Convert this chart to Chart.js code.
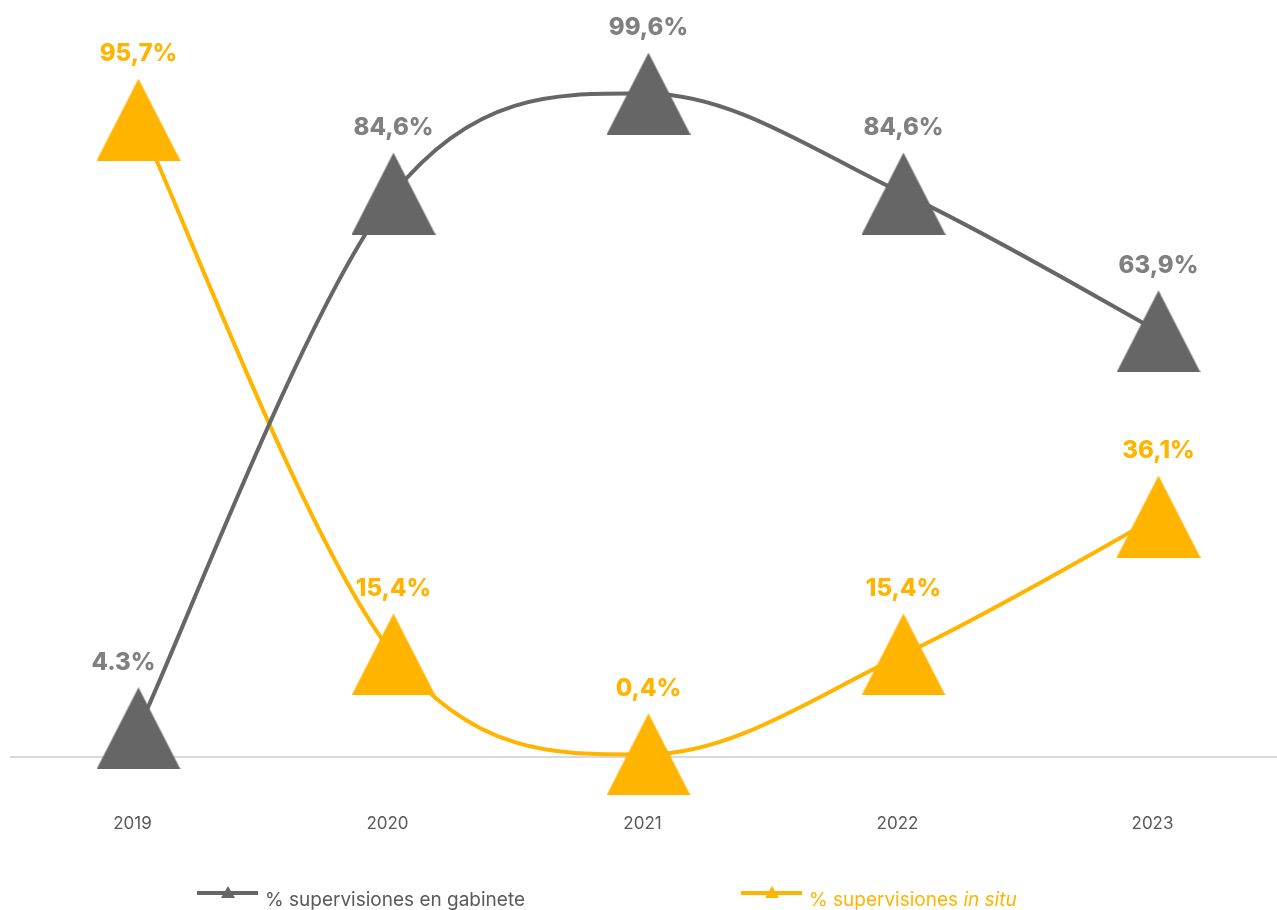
<!DOCTYPE html>
<html lang="es">
<head>
<meta charset="UTF-8">
<title>Supervisiones en gabinete / in situ</title>
<script src="https://cdn.jsdelivr.net/npm/chart.js"></script>
<style>
  body { margin: 0; background: #ffffff; overflow: hidden; }
  #wrap { position: absolute; left: 0; top: 0; width: 1286px; height: 910px; }
</style>
</head>
<body>
<div id="wrap"><canvas id="chart" width="1286" height="910"></canvas></div>
<script>
const years = ['2019', '2020', '2021', '2022', '2023'];
const gabinete = [4.3, 84.6, 99.6, 84.6, 63.9];
const inSitu = [95.7, 15.4, 0.4, 15.4, 36.1];
const gabineteText = ['4.3%', '84,6%', '99,6%', '84,6%', '63,9%'];
const inSituText = ['95,7%', '15,4%', '0,4%', '15,4%', '36,1%'];

const GRAY = '#666666';
const GRAY_TEXT = '#808080';
const YELLOW = '#FFB400';
const FONT = 'Inter, "Noto Sans", sans-serif';

// big triangle marker, centred on its bounding box like the original
function triangle(color, w, h) {
  const c = document.createElement('canvas');
  c.width = w; c.height = h;
  const g = c.getContext('2d');
  g.fillStyle = color;
  g.beginPath();
  g.moveTo(w / 2, 0);
  g.lineTo(w, h);
  g.lineTo(0, h);
  g.closePath();
  g.fill();
  return c;
}

// office-style smoothing: plain catmull-rom handles (neighbour diff / 6)
const officeSmooth = {
  id: 'officeSmooth',
  beforeDatasetsDraw(chart) {
    chart.data.datasets.forEach((ds, i) => {
      const meta = chart.getDatasetMeta(i);
      const pts = meta.data;
      pts.forEach((p, j) => {
        const prev = pts[j - 1] || p;
        const next = pts[j + 1] || p;
        const tx = (next.x - prev.x) / 6;
        const ty = (next.y - prev.y) / 6;
        p.cp1x = p.x - tx; p.cp1y = p.y - ty;
        p.cp2x = p.x + tx; p.cp2y = p.y + ty;
      });
      meta.dataset._pointsUpdated = true;
    });
  }
};

const valueLabels = {
  id: 'valueLabels',
  afterDatasetsDraw(chart) {
    const ctx = chart.ctx;
    ctx.save();
    ctx.font = '800 24px ' + FONT;
    ctx.textAlign = 'center';
    ctx.textBaseline = 'middle';
    chart.data.datasets.forEach((ds, i) => {
      chart.getDatasetMeta(i).data.forEach((pt, j) => {
        const dx = (ds.labelShift && ds.labelShift[j]) || 0;
        ctx.fillStyle = ds.labelColor;
        ctx.fillText(ds.valueText[j], pt.x + dx, pt.y - 66);
      });
    });
    ctx.restore();
  }
};

const bottomLegend = {
  id: 'bottomLegend',
  afterDraw(chart) {
    const ctx = chart.ctx;
    const y = 893;
    const items = [
      { x: 197, color: GRAY, textColor: '#595959', parts: [['% supervisiones en gabinete', '']] },
      { x: 741, color: YELLOW, textColor: YELLOW, parts: [['% supervisiones ', ''], ['in situ', 'italic ']] }
    ];
    ctx.save();
    items.forEach(it => {
      ctx.strokeStyle = it.color;
      ctx.lineWidth = 4;
      ctx.beginPath();
      ctx.moveTo(it.x, y);
      ctx.lineTo(it.x + 61, y);
      ctx.stroke();
      ctx.fillStyle = it.color;
      ctx.beginPath();
      ctx.moveTo(it.x + 31, y - 7);
      ctx.lineTo(it.x + 38, y + 5);
      ctx.lineTo(it.x + 24, y + 5);
      ctx.closePath();
      ctx.fill();
      let tx = it.x + 68;
      ctx.fillStyle = it.textColor;
      ctx.textBaseline = 'alphabetic';
      ctx.textAlign = 'left';
      it.parts.forEach(([t, style]) => {
        ctx.font = style + '19px ' + FONT;
        ctx.fillText(t, tx, 906);
        tx += ctx.measureText(t).width;
      });
    });
    ctx.restore();
  }
};

new Chart(document.getElementById('chart'), {
  type: 'line',
  data: {
    labels: years,
    datasets: [
      {
        label: '% supervisiones en gabinete',
        data: gabinete,
        valueText: gabineteText,
        labelColor: GRAY_TEXT,
        labelShift: { 0: -15 },
        borderColor: GRAY,
        backgroundColor: GRAY,
        borderWidth: 4,
        tension: 0.4,
        pointStyle: triangle(GRAY, 84, 82),
        clip: false
      },
      {
        label: '% supervisiones in situ',
        data: inSitu,
        valueText: inSituText,
        labelColor: YELLOW,
        borderColor: YELLOW,
        backgroundColor: YELLOW,
        borderWidth: 4,
        tension: 0.4,
        pointStyle: triangle(YELLOW, 84, 82),
        clip: false
      }
    ]
  },
  options: {
    responsive: false,
    animation: false,
    layout: { autoPadding: false, padding: { left: 11, top: 91, right: 0, bottom: 0 } },
    plugins: { legend: { display: false }, tooltip: { enabled: false } },
    scales: {
      x: {
        offset: true,
        grid: { display: false, drawTicks: false },
        border: { display: true, color: '#d9d9d9', width: 2 },
        ticks: { color: '#595959', font: { family: FONT, size: 17 }, padding: 57, labelOffset: -6 },
        afterFit(scale) { scale.height = 153; }
      },
      y: { display: false, min: 0, max: 100 }
    }
  },
  plugins: [officeSmooth, valueLabels, bottomLegend]
});
</script>
</body>
</html>
